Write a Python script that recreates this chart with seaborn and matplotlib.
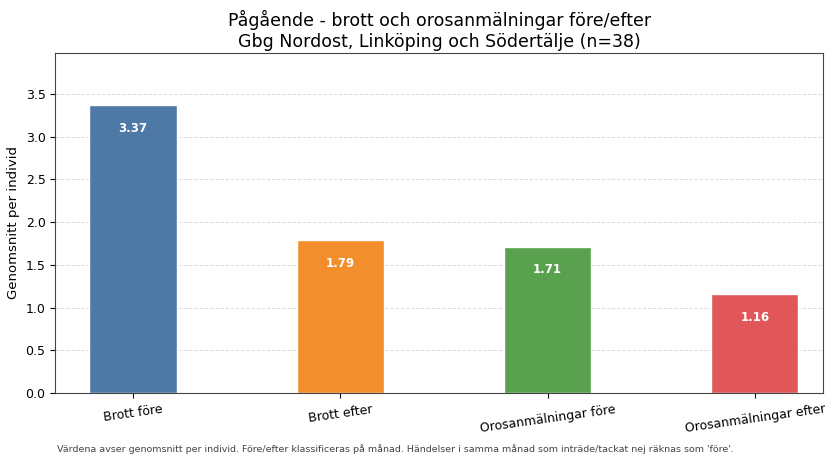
import matplotlib
matplotlib.use('Agg')
import pandas as pd
import matplotlib.pyplot as plt
import seaborn as sns

# data
categories = ['Brott före', 'Brott efter', 'Orosanmälningar före', 'Orosanmälningar efter']
values = [3.37, 1.79, 1.71, 1.16]
colors = ['#4e79a7', '#f28e2b', '#59a14f', '#e15759']

df = pd.DataFrame({'kategori': categories, 'medel': values})

sns.set_style('ticks')
plt.rcParams['font.family'] = ['DejaVu Sans']
plt.rcParams['text.color'] = 'black'
plt.rcParams['axes.labelcolor'] = 'black'
plt.rcParams['xtick.color'] = 'black'
plt.rcParams['ytick.color'] = 'black'

fig = plt.figure(figsize=(8.25, 4.55), dpi=100)
ax = fig.add_axes([0.067, 0.136, 0.931, 0.748])

sns.barplot(data=df, x='kategori', y='medel', hue='kategori', palette=colors,
            width=0.42, legend=False, ax=ax, saturation=1)

for i, v in enumerate(values):
    ax.text(i, v - 0.27, f'{v:.2f}', ha='center', va='center',
            color='white', fontweight='bold', fontsize=8.5)

ax.set_xlim(-0.375, 3.33)
ax.set_ylim(0, 3.98)
ax.set_yticks([0.0, 0.5, 1.0, 1.5, 2.0, 2.5, 3.0, 3.5])
ax.yaxis.grid(True, linestyle='--', color='#dddddd', linewidth=0.7)
ax.set_axisbelow(True)
for s in ax.spines.values():
    s.set_visible(True)
    s.set_color('#444444')
ax.set_xlabel('')
ax.set_ylabel('Genomsnitt per individ', fontsize=9.5)
ax.tick_params(axis='both', labelsize=9)
plt.setp(ax.get_xticklabels(), rotation=8, ha='center')

ax.set_title('Pågående - brott och orosanmälningar före/efter\nGbg Nordost, Linköping och Södertälje (n=38)',
             fontsize=12.5, pad=4)

fig.text(0.069, 0.003, "Värdena avser genomsnitt per individ. Före/efter klassificeras på månad. "
         "Händelser i samma månad som inträde/tackat nej räknas som 'före'.",
         fontsize=6.8, color='#444444', ha='left', va='bottom')

fig.savefig('out.png', dpi=100)
